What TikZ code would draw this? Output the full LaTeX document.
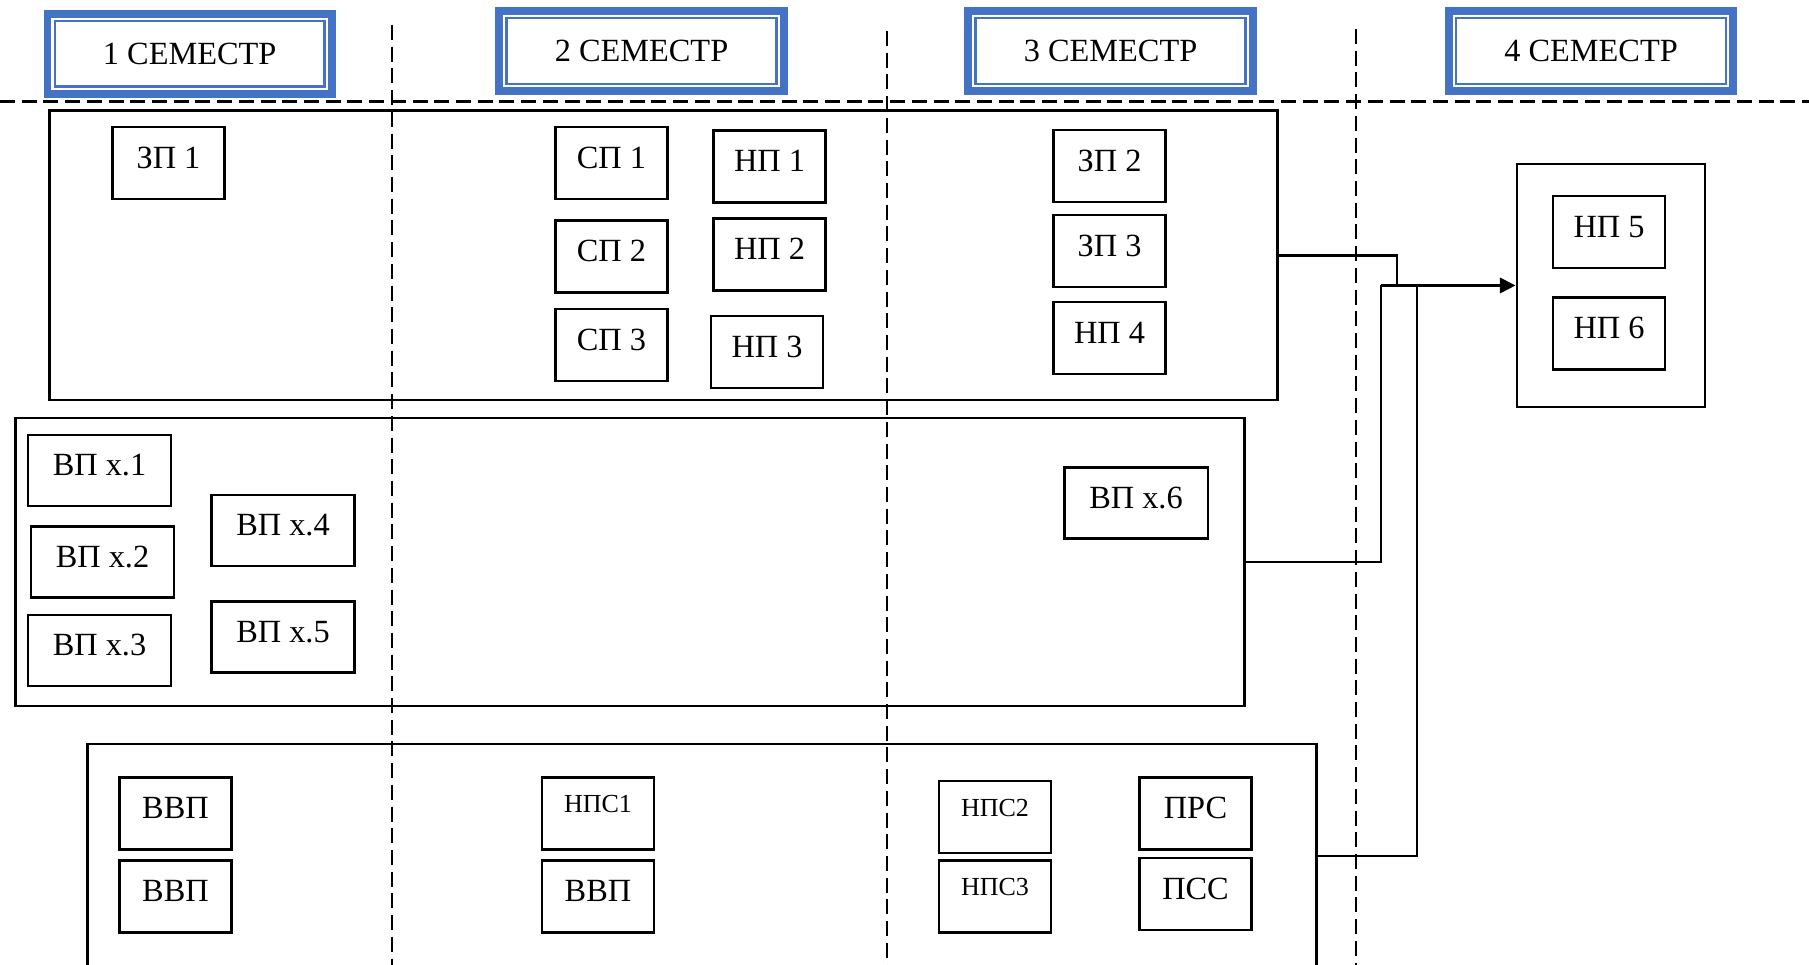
\documentclass[tikz,border=0pt]{standalone}
\usepackage{fontspec}
\setmainfont{Liberation Serif}
\usetikzlibrary{arrows.meta}
\definecolor{semblue}{HTML}{4472C4}

\begin{document}
\begin{tikzpicture}[x=0.01cm,y=-0.01cm,
		box/.style={draw,line width=0.6pt,inner sep=0pt,minimum width=1.12cm,minimum height=0.72cm,
			text height=0.3cm,text depth=0.19cm,font=\fontsize{9.2}{11}\selectfont},
		smallbox/.style={box,text height=0.2cm,text depth=0.21cm,font=\fontsize{7.4}{9}\selectfont},
		wbox/.style={box,minimum width=1.43cm,minimum height=0.71cm},
		group/.style={draw,line width=0.75pt,inner sep=0pt},
		sem/.style={draw=semblue,line width=0.077cm,inner sep=0pt,minimum width=2.843cm,
			minimum height=0.8cm,font=\fontsize{9.2}{11}\selectfont},
		sep/.style={dash pattern=on 0.15cm off 0.067cm,line width=0.5pt},
		link/.style={line width=0.65pt}]
		\useasboundingbox (0,0) rectangle (1809,965);

		% semesters
		\node [sem] (sem1) at (189.7, 53.8) {1 СЕМЕСТР};
		\node [sem] (sem2) at (641.5, 51) {2 СЕМЕСТР};
		\node [sem] (sem3) at (1110.5, 51) {3 СЕМЕСТР};
		\node [sem] (sem4) at (1591, 51) {4 СЕМЕСТР};
		\foreach \s in {sem1,sem2,sem3,sem4}
			\draw [semblue,line width=0.65pt] ([shift={(11.2,11.2)}]\s.north west) rectangle ([shift={(-11.2,-11.2)}]\s.south east);

		\draw [sep,line width=0.65pt] (0,101.5) -- (1809,101.5);
		\draw [sep] (392,25) -- (392,965);
		\draw [sep] (887,31) -- (887,965);
		\draw [sep] (1356,29) -- (1356,965);

		% groups
		\node [group,minimum width=12.274cm,minimum height=2.892cm] (grpA) at (663.3, 255.4) {};
		\node [group,minimum width=12.28cm,minimum height=2.88cm] (grpB) at (630, 562) {};
		\node [group,minimum width=12.28cm,minimum height=2.24cm] (grpC) at (702, 856) {};
		\node [group,minimum width=1.88cm,minimum height=2.43cm] (grpD) at (1611, 285.5) {};

		% top group
		\node [box] (zp1) at (168.5, 163) {ЗП 1};
		\node [box] (sp1) at (611.5, 163) {СП 1};
		\node [box] (sp2) at (611.5, 256.5) {СП 2};
		\node [box] (sp3) at (611.5, 345) {СП 3};
		\node [box] (np1) at (769.5, 166.5) {НП 1};
		\node [box] (np2) at (769.5, 254.5) {НП 2};
		\node [box] (np3) at (767, 352) {НП 3};
		\node [box] (zp2) at (1109.5, 166) {ЗП 2};
		\node [box] (zp3) at (1109.5, 251) {ЗП 3};
		\node [box] (np4) at (1109.5, 338) {НП 4};

		% 4th semester
		\node [box] (np5) at (1609, 232) {НП 5};
		\node [box] (np6) at (1609, 333.5) {НП 6};

		% middle group
		\node [wbox] (vp1) at (99.5, 470.5) {ВП x.1};
		\node [wbox] (vp2) at (102.5, 562) {ВП x.2};
		\node [wbox] (vp3) at (99.5, 650.5) {ВП x.3};
		\node [wbox] (vp4) at (283, 530.5) {ВП x.4};
		\node [wbox] (vp5) at (283, 637) {ВП x.5};
		\node [wbox] (vp6) at (1136, 503) {ВП x.6};

		% bottom group
		\node [box] (vvpa) at (175.5, 813.5) {ВВП};
		\node [box] (vvpb) at (175.5, 896.5) {ВВП};
		\node [smallbox] (nps1) at (598, 813.5) {НПС1};
		\node [box] (vvpc) at (598, 896.5) {ВВП};
		\node [smallbox] (nps2) at (995, 817) {НПС2};
		\node [smallbox] (nps3) at (995, 896.5) {НПС3};
		\node [box] (prs) at (1195.5, 813.5) {ПРС};
		\node [box] (pss) at (1195.5, 894) {ПСС};

		\coordinate (knotA) at (1397, 285.5);
		\coordinate (knotB) at (1381, 285.5);
		\coordinate (knotC) at (1417, 285.5);
		\draw [link] (grpA.east) -| (knotA);
		\draw [link] (grpB.east) -| (knotB);
		\draw [link] (grpC.east) -| (knotC);
		\draw [line width=0.94pt,-{Triangle[length=0.157cm,width=0.15cm]}] (knotB) -- (grpD.west);
\end{tikzpicture}
\end{document}
